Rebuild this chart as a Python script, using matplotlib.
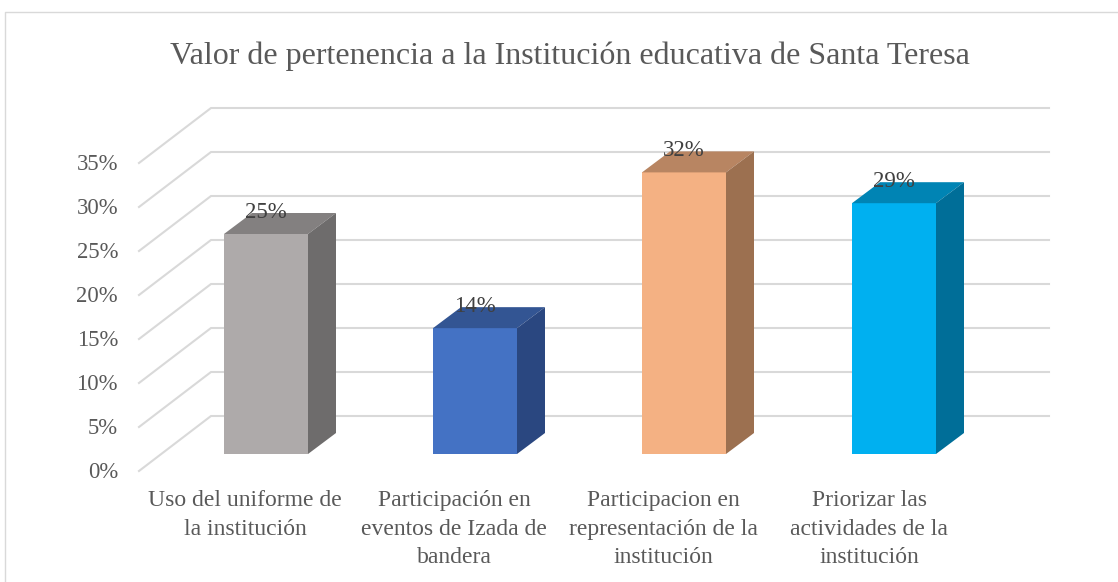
import matplotlib
matplotlib.use("Agg")
import matplotlib.pyplot as plt
from matplotlib.patches import Polygon, Rectangle

# data
categories = ["Uso del uniforme de\nla institución",
              "Participación en\neventos de Izada de\nbandera",
              "Participacion en\nrepresentación de la\ninstitución",
              "Priorizar las\nactividades de la\ninstitución"]
values = [25, 14.3, 32, 28.5]
labels = ["25%", "14%", "32%", "29%"]
ticks = [0, 5, 10, 15, 20, 25, 30, 35]
front = ["#AEAAAA", "#4472C4", "#F4B183", "#00B0F0"]
top = ["#838080", "#335593", "#B88562", "#0084B4"]
side = ["#6E6C6C", "#2A4780", "#9C7050", "#006E98"]

plt.rcParams["font.family"] = ["Liberation Serif", "DejaVu Serif"]
TXT = "#595959"

fig = plt.figure(figsize=(11.18, 5.82), dpi=100)
ax = fig.add_axes([0, 0, 1, 1])
ax.set_xlim(0, 1118)
ax.set_ylim(582, 0)
ax.axis("off")

# chart border
ax.plot([5, 5, 1118], [582, 12, 12], color="#D9D9D9", lw=1)

ax.text(570, 56, "Valor de pertenencia a la Institución educativa de Santa Teresa",
        ha="center", va="center", fontsize=23, color=TXT)

# scale: pixels per percent on the front plane and the depth offset
y0 = 471
unit = 8.8
dx, dy = 72, 55
x_front = 139

for t in ticks:
    y = y0 - t * unit
    ax.plot([x_front, x_front + dx, 1049], [y, y - dy, y - dy], color="#D9D9D9", lw=1.5)
    ax.text(118, y + 2, f"{t}%", ha="right", va="center", fontsize=16.3, color=TXT)

centers = [266, 475, 684, 894]
label_x = [245, 454, 663, 869]
w = 84
bd, bh = 28, 21
base = 454
for c, lx, v, lab, cat, f, tp, s in zip(centers, label_x, values, labels, categories, front, top, side):
    h = v * unit
    xl = c - w / 2
    xr = c + w / 2
    yt = base - h
    ax.add_patch(Rectangle((xl, yt), w, h, fc=f, ec="none", zorder=3))
    ax.add_patch(Polygon([(xl, yt), (xl + bd, yt - bh), (xr + bd, yt - bh), (xr, yt)], fc=tp, ec="none", zorder=3))
    ax.add_patch(Polygon([(xr, yt), (xr + bd, yt - bh), (xr + bd, base - bh), (xr, base)], fc=s, ec="none", zorder=3))
    ax.text(c, yt - 22, lab, ha="center", va="center", fontsize=16.5, color="#404040", zorder=4)
    ax.text(lx, 490, cat, ha="center", va="top", fontsize=17, color=TXT, linespacing=1.47)

fig.savefig("out.png", dpi=100)
